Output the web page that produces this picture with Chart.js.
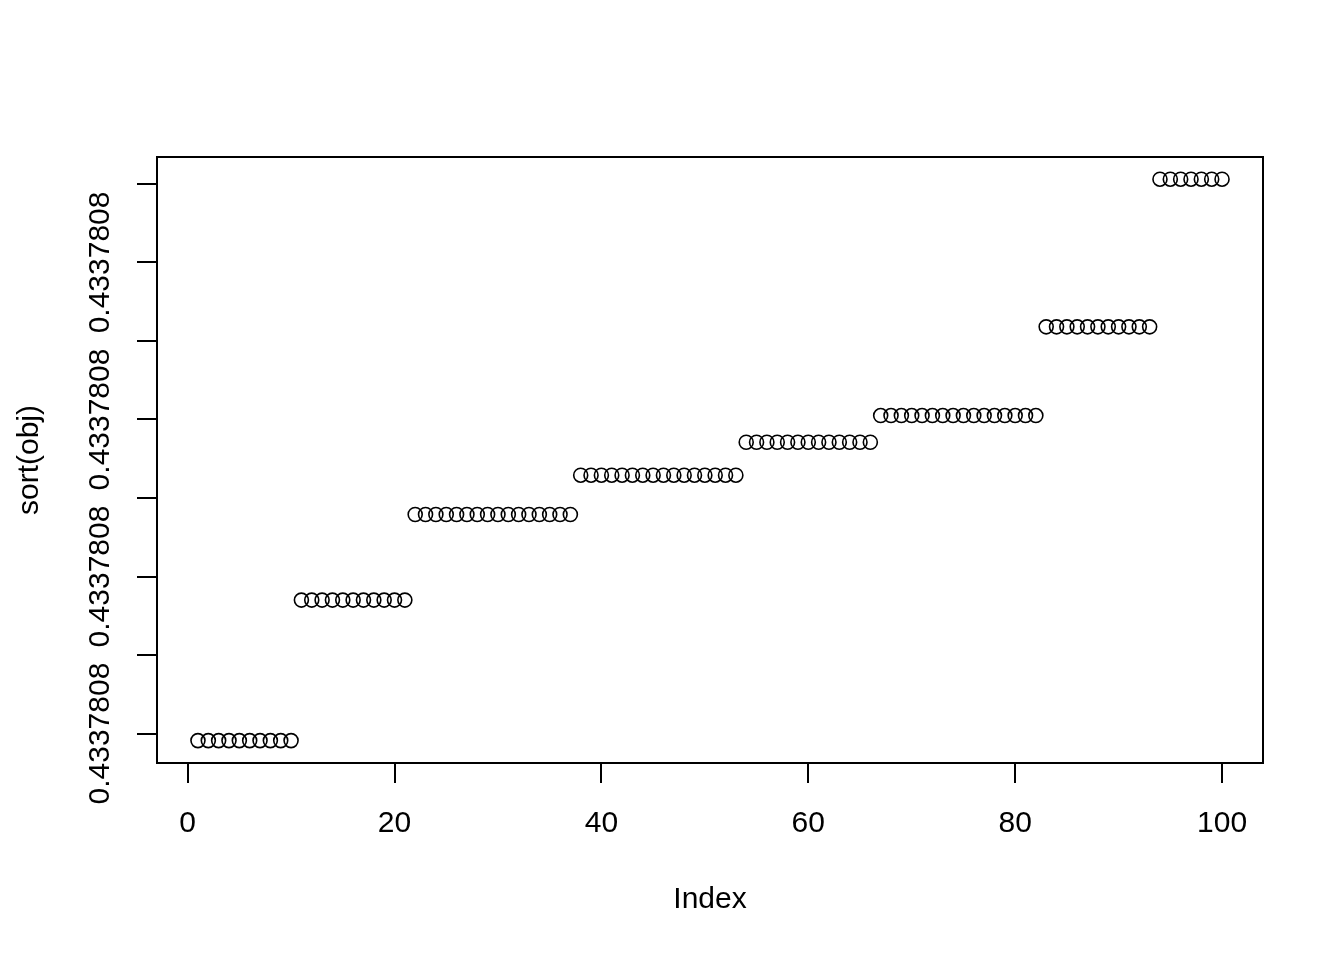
<!DOCTYPE html>
<html>
<head>
<meta charset="utf-8">
<script src="https://cdn.jsdelivr.net/npm/chart.js@4/dist/chart.umd.min.js"></script>
<style>
  html, body { margin: 0; padding: 0; background: #fff; }
  canvas { display: block; }
</style>
</head>
<body>
<canvas id="plot" width="1344" height="960"></canvas>
<script>
// all values print as 0.4337808; differences are tiny, so y is kept as
// offsets in units of one y tick step
const yLabel = "0.4337808";
const sortedObj = [
  -0.09, -0.09, -0.09, -0.09, -0.09, -0.09, -0.09, -0.09, -0.09, -0.09,
  1.70, 1.70, 1.70, 1.70, 1.70, 1.70, 1.70, 1.70, 1.70, 1.70, 1.70,
  2.79, 2.79, 2.79, 2.79, 2.79, 2.79, 2.79, 2.79, 2.79, 2.79, 2.79, 2.79, 2.79, 2.79, 2.79, 2.79,
  3.29, 3.29, 3.29, 3.29, 3.29, 3.29, 3.29, 3.29, 3.29, 3.29, 3.29, 3.29, 3.29, 3.29, 3.29, 3.29,
  3.71, 3.71, 3.71, 3.71, 3.71, 3.71, 3.71, 3.71, 3.71, 3.71, 3.71, 3.71, 3.71,
  4.05, 4.05, 4.05, 4.05, 4.05, 4.05, 4.05, 4.05, 4.05, 4.05, 4.05, 4.05, 4.05, 4.05, 4.05, 4.05,
  5.18, 5.18, 5.18, 5.18, 5.18, 5.18, 5.18, 5.18, 5.18, 5.18, 5.18,
  7.06, 7.06, 7.06, 7.06, 7.06, 7.06, 7.06
];
const xTicks = [0, 20, 40, 60, 80, 100];
const yTicks = [0, 1, 2, 3, 4, 5, 6, 7];
const yLabelled = [0, 2, 4, 6]; // R drops the overlapping ones

const FONT = '"Liberation Sans", Arial, Helvetica, sans-serif';

// R-style box round the plot region + rotated y tick labels
const rBox = {
  id: 'rBox',
  afterDraw(chart) {
    const ctx = chart.ctx;
    const a = chart.chartArea;
    ctx.save();
    ctx.strokeStyle = '#000';
    ctx.lineWidth = 2;
    ctx.strokeRect(a.left, a.top, a.right - a.left, a.bottom - a.top);

    const ys = chart.scales.y;
    ctx.fillStyle = '#000';
    ctx.font = '30px ' + FONT;
    ctx.textAlign = 'center';
    ctx.textBaseline = 'middle';
    yLabelled.forEach(v => {
      ctx.save();
      ctx.translate(101, ys.getPixelForValue(v));
      ctx.rotate(-Math.PI / 2);
      ctx.fillText(yLabel, 0, 0);
      ctx.restore();
    });
    ctx.restore();
  }
};

new Chart(document.getElementById('plot'), {
  type: 'scatter',
  data: {
    datasets: [{
      data: sortedObj.map((v, i) => ({ x: i + 1, y: v })),
      pointStyle: 'circle',
      pointRadius: 7,
      pointBorderWidth: 1.6,
      pointBorderColor: '#000',
      pointBackgroundColor: 'rgba(0,0,0,0)',
    }]
  },
  options: {
    responsive: false,
    animation: false,
    devicePixelRatio: 1,
    layout: { padding: { top: 157, right: 81, left: 0, bottom: 0 } },
    plugins: { legend: { display: false }, tooltip: { enabled: false } },
    scales: {
      x: {
        type: 'linear',
        min: -2.96,
        max: 103.96,
        afterBuildTicks: s => { s.ticks = xTicks.map(v => ({ value: v })); },
        afterFit: s => { s.height = 197; },
        grid: { drawOnChartArea: false, tickLength: 20, color: '#000', lineWidth: 2 },
        border: { display: false },
        ticks: { color: '#000', padding: 23, maxRotation: 0, font: { family: FONT, size: 30 } },
        title: { display: true, text: 'Index', color: '#000', font: { family: FONT, size: 30 }, padding: { top: 0, bottom: 42 } }
      },
      y: {
        type: 'linear',
        min: -0.375,
        max: 7.343,
        afterBuildTicks: s => { s.ticks = yTicks.map(v => ({ value: v })); },
        afterFit: s => { s.width = 157; },
        grid: { drawOnChartArea: false, tickLength: 20, color: '#000', lineWidth: 2 },
        border: { display: false },
        ticks: { callback: () => '', font: { family: FONT, size: 30 } },
        title: { display: true, text: 'sort(obj)', color: '#000', font: { family: FONT, size: 30 }, padding: { top: 12, bottom: 0 } }
      }
    }
  },
  plugins: [rBox]
});
</script>
</body>
</html>
